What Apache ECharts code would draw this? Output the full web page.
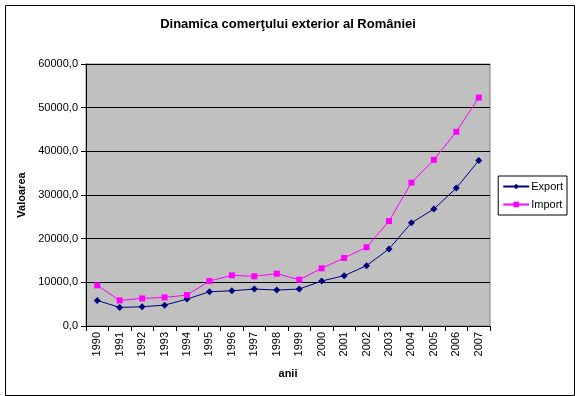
<!DOCTYPE html>
<html><head><meta charset="utf-8">
<script src="https://cdn.jsdelivr.net/npm/echarts@6/dist/echarts.min.js"></script>
<style>html,body{margin:0;padding:0;background:#fff}#c{width:576px;height:396px}</style>
</head><body><div id="c"></div>
<script>
var years = ['1990','1991','1992','1993','1994','1995','1996','1997','1998','1999','2000','2001','2002','2003','2004','2005','2006','2007'];
var exportVals = [5860,4250,4400,4780,6160,7840,8070,8460,8230,8460,10300,11520,13820,17650,23630,26780,31600,37890];
var importVals = [9310,5860,6320,6550,7080,10300,11600,11380,11980,10600,13200,15590,18040,24020,32830,38050,44480,52300];
var yTicks = [0,10000,20000,30000,40000,50000,60000];

var chart = echarts.init(document.getElementById('c'), null, {renderer:'canvas'});
var F = 'Liberation Sans, Arial, sans-serif';
chart.setOption({
  animation:false,
  backgroundColor:'#fff',
  graphic:[{type:'rect',left:3,top:3,shape:{width:569,height:390},style:{fill:'none',stroke:'#000',lineWidth:1},z:-1}],
  title:{text:'Dinamica comerţului exterior al României',left:'center',top:13,textStyle:{fontFamily:F,fontSize:13,fontWeight:'bold',color:'#000'}},
  legend:{right:9,top:176,orient:'vertical',itemWidth:26,itemHeight:7,itemGap:7,padding:[5,4,5,4],
    borderColor:'#000',borderWidth:1,textStyle:{fontFamily:F,fontSize:11,color:'#000',padding:[0,0,0,-3]},
    data:['Export','Import']},
  grid:{left:86,right:86,top:64,bottom:70,show:true,backgroundColor:'#C0C0C0',borderColor:'#808080',borderWidth:1},
  xAxis:{type:'category',data:years,boundaryGap:true,name:'anii',nameLocation:'middle',nameGap:42,
    nameTextStyle:{fontFamily:F,fontSize:11,fontWeight:'bold',color:'#000'},
    axisLine:{lineStyle:{color:'#000'}},axisTick:{show:true,inside:false,length:5,alignWithLabel:false,lineStyle:{color:'#000'}},
    axisLabel:{rotate:90,fontFamily:F,fontSize:11,color:'#000',margin:6,interval:0}},
  yAxis:{type:'value',min:0,max:60000,interval:10000,name:'Valoarea',nameLocation:'middle',nameGap:53,
    nameTextStyle:{fontFamily:F,fontSize:11,fontWeight:'bold',color:'#000'},
    axisLine:{show:true,lineStyle:{color:'#000'}},axisTick:{show:true,length:5,lineStyle:{color:'#000'}},
    splitLine:{lineStyle:{color:'#000',width:1}},
    axisLabel:{fontFamily:F,fontSize:11,color:'#000',margin:8,formatter:function(v){return yTicks.indexOf(v)>=0? v.toFixed(1).replace('.',','):'';}}},
  series:[
    {name:'Export',type:'line',data:exportVals,symbol:'diamond',symbolSize:7,color:'#000080',lineStyle:{width:1,color:'#000080'},itemStyle:{color:'#000080'}},
    {name:'Import',type:'line',data:importVals,symbol:'rect',symbolSize:6,color:'#FF00FF',lineStyle:{width:1,color:'#FF00FF'},itemStyle:{color:'#FF00FF'}}
  ]
});
</script></body></html>
